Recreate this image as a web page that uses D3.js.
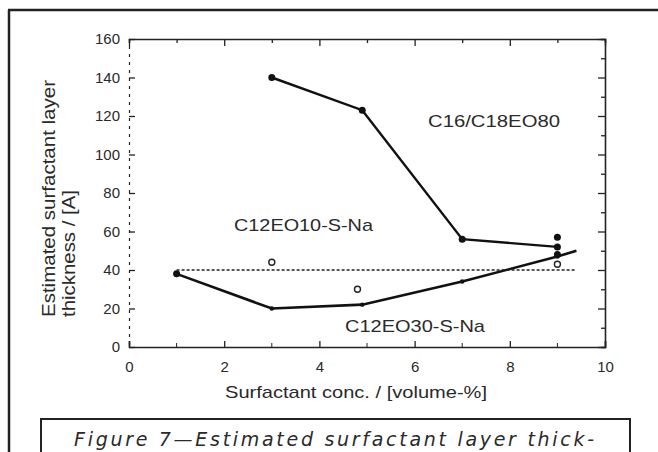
<!DOCTYPE html>
<html lang="en">
<head>
<meta charset="UTF-8">
<title>Figure 7</title>
<script src="https://d3js.org/d3.v7.min.js"></script>
<style>
  body { margin: 0; background: #fff; }
  svg text { font-family: "Liberation Sans", Arial, sans-serif; fill: #2a2a2a; }
</style>
</head>
<body>
<svg id="chart" width="658" height="452"></svg>
<script>
// series
var c16X = [3, 4.9, 7, 9];
var c16Y = [140, 123, 56, 52];
var c16Extra = [[9, 57], [9, 48]];          // extra filled dots at x=9

var c30X = [1, 3, 4.9, 7, 9, 9.4];
var c30Y = [38, 20, 22, 34, 47, 50];

var c10X = [3, 4.8, 9];                      // open circles
var c10Y = [44, 30, 43];
var c10Fit = [[1, 40], [9.4, 40]];           // dashed level line

var xTicks = [0, 2, 4, 6, 8, 10];
var yTicks = [0, 20, 40, 60, 80, 100, 120, 140, 160];
var yTickText = ["0", "20", "40", "60", "80", "100", "120", "140", "160"];

var svg = d3.select("#chart");

// outer page frame
svg.append("line").attr("x1", 8).attr("y1", 10).attr("x2", 658).attr("y2", 10)
   .attr("stroke", "#222").attr("stroke-width", 2.5);
svg.append("line").attr("x1", 9).attr("y1", 10).attr("x2", 9).attr("y2", 452)
   .attr("stroke", "#222").attr("stroke-width", 2.5);

var x = d3.scaleLinear().domain([0, 10]).range([129, 605]);
var y = d3.scaleLinear().domain([0, 160]).range([347, 39]);

// axes, ticks inward
var axBottom = d3.axisBottom(x).tickValues(xTicks).tickSize(-6).tickPadding(14).tickFormat(d3.format("d"));
var axTop = d3.axisTop(x).tickValues(d3.range(0, 11, 1)).tickSize(-4).tickFormat("");
var axLeft = d3.axisLeft(y).tickValues(yTicks).tickSize(-6).tickPadding(9)
             .tickFormat(function(d, i) { return yTickText[i]; });
var axRight = d3.axisRight(y).tickValues(d3.range(0, 161, 10)).tickSize(-4).tickFormat("");

var gB = svg.append("g").attr("transform", "translate(0,347)").call(axBottom);
var gT = svg.append("g").attr("transform", "translate(0,39)").call(axTop);
var gL = svg.append("g").attr("transform", "translate(129,0)").call(axLeft);
var gR = svg.append("g").attr("transform", "translate(605,0)").call(axRight);

// minor ticks on bottom
svg.append("g").selectAll("line").data([1, 3, 5, 7, 9]).enter().append("line")
   .attr("x1", function(d) { return x(d); }).attr("x2", function(d) { return x(d); })
   .attr("y1", 347).attr("y2", 343).attr("stroke", "#222");
// make major ticks on top/right longer
gT.selectAll(".tick line").attr("y2", function(d) { return d % 2 === 0 ? 7 : 4; });
gR.selectAll(".tick line").attr("x2", function(d) { return d % 20 === 0 ? -7 : -4; });

[gB, gT, gL, gR].forEach(function(g) {
  g.select(".domain").attr("stroke", "#222").attr("stroke-width", 1.6);
  g.selectAll(".tick line").attr("stroke", "#222").attr("stroke-width", 1.3);
  g.selectAll("text").style("font-size", "15px").attr("fill", "#2a2a2a");
});
// the left axis came out broken in the scan
gL.select(".domain").attr("stroke-dasharray", "3,5").attr("stroke-width", 1.2);

// axis titles
svg.append("text").attr("x", 225).attr("y", 398)
   .attr("textLength", 262).attr("lengthAdjust", "spacingAndGlyphs")
   .style("font-size", "17px").text("Surfactant conc. / [volume-%]");
svg.append("text").attr("transform", "translate(55,317) rotate(-90)")
   .attr("textLength", 237).attr("lengthAdjust", "spacingAndGlyphs")
   .style("font-size", "18px").text("Estimated surfactant layer");
svg.append("text").attr("transform", "translate(75,317) rotate(-90)")
   .attr("textLength", 127).attr("lengthAdjust", "spacingAndGlyphs")
   .style("font-size", "18px").text("thickness / [A]");

var line = d3.line().x(function(d) { return x(d[0]); }).y(function(d) { return y(d[1]); });

// C16/C18EO80
var c16 = c16X.map(function(v, i) { return [v, c16Y[i]]; });
svg.append("path").datum(c16).attr("d", line).attr("fill", "none")
   .attr("stroke", "#111").attr("stroke-width", 2.4);
svg.append("g").selectAll("circle").data(c16.concat(c16Extra)).enter().append("circle")
   .attr("cx", function(d) { return x(d[0]); }).attr("cy", function(d) { return y(d[1]); })
   .attr("r", 3.5).attr("fill", "#111");

// C12EO30-S-Na
var c30 = c30X.map(function(v, i) { return [v, c30Y[i]]; });
svg.append("path").datum(c30).attr("d", line).attr("fill", "none")
   .attr("stroke", "#111").attr("stroke-width", 2.6);
svg.append("g").selectAll("circle").data(c30.slice(0, 5)).enter().append("circle")
   .attr("cx", function(d) { return x(d[0]); }).attr("cy", function(d) { return y(d[1]); })
   .attr("r", function(d, i) { return i === 0 ? 3.5 : 2.2; }).attr("fill", "#111");

// C12EO10-S-Na
svg.append("path").datum(c10Fit).attr("d", line).attr("fill", "none")
   .attr("stroke", "#222").attr("stroke-width", 1.5).attr("stroke-dasharray", "3,2");
svg.append("g").selectAll("circle").data(c10X.map(function(v, i) { return [v, c10Y[i]]; }))
   .enter().append("circle")
   .attr("cx", function(d) { return x(d[0]); }).attr("cy", function(d) { return y(d[1]); })
   .attr("r", 3).attr("fill", "#fff").attr("stroke", "#222").attr("stroke-width", 1.4);

// series labels
svg.append("text").attr("x", 428).attr("y", 127)
   .attr("textLength", 132).attr("lengthAdjust", "spacingAndGlyphs")
   .style("font-size", "17px").text("C16/C18EO80");
svg.append("text").attr("x", 234).attr("y", 231)
   .attr("textLength", 139).attr("lengthAdjust", "spacingAndGlyphs")
   .style("font-size", "17px").text("C12EO10-S-Na");
svg.append("text").attr("x", 345).attr("y", 332)
   .attr("textLength", 140).attr("lengthAdjust", "spacingAndGlyphs")
   .style("font-size", "17px").text("C12EO30-S-Na");

// caption box
svg.append("rect").attr("x", 41).attr("y", 419).attr("width", 589).attr("height", 50)
   .attr("fill", "none").attr("stroke", "#222").attr("stroke-width", 2);
svg.append("text").attr("x", 74).attr("y", 446)
   .attr("textLength", 520).attr("lengthAdjust", "spacing")
   .style("font-size", "19px").style("font-style", "italic")
   .style("font-family", "'DejaVu Sans', sans-serif")
   .text("Figure 7\u2014Estimated surfactant layer thick-");
</script>
</body>
</html>
